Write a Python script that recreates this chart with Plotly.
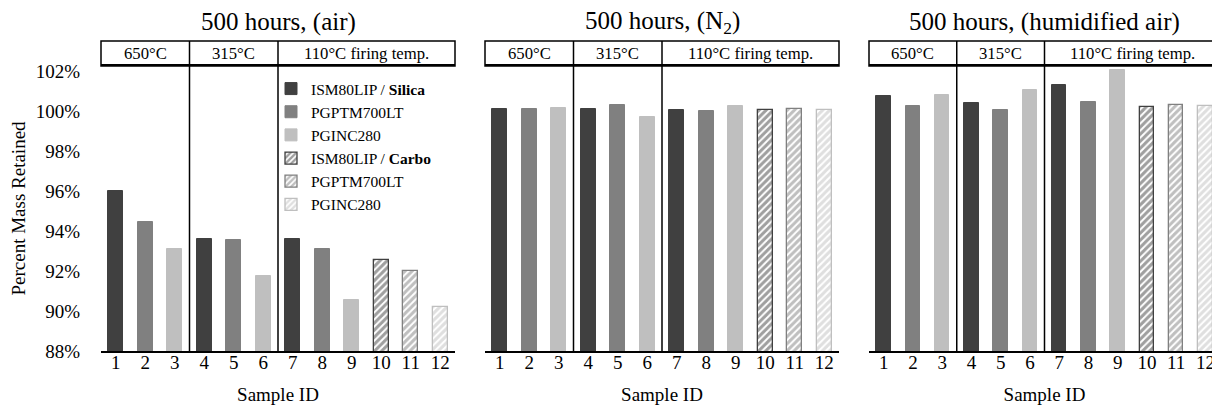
import plotly.graph_objects as go

# ---------------- data ----------------
sample_ids = [1, 2, 3, 4, 5, 6, 7, 8, 9, 10, 11, 12]
series_names = ["ISM80LIP / <b>Silica</b>", "PGPTM700LT", "PGINC280",
                "ISM80LIP / <b>Carbo</b>", "PGPTM700LT", "PGINC280"]
sample_series = [0, 1, 2, 0, 1, 2, 0, 1, 2, 3, 4, 5]

air = [96.0, 94.45, 93.1, 93.62, 93.55, 91.75, 93.62, 93.08, 90.55, 92.55, 91.98, 90.18]
n2 = [100.1, 100.12, 100.15, 100.08, 100.3, 99.7, 100.07, 100.0, 100.25, 100.05, 100.12, 100.05]
humid = [100.75, 100.27, 100.82, 100.38, 100.05, 101.05, 101.28, 100.45, 102.07, 100.18, 100.28, 100.25]

panel_titles = ["500 hours, (air)", "500 hours, (N<sub>2</sub>)", "500 hours, (humidified air)"]
zone_labels = ["650°C", "315°C", "110°C firing temp."]
zone_samples = [[1, 2, 3], [4, 5, 6], [7, 8, 9, 10, 11, 12]]
y_ticks = [88, 90, 92, 94, 96, 98, 100, 102]

# ---------------- styles ----------------
colors = ["#404040", "#808080", "#bfbfbf", "#404040", "#808080", "#bfbfbf"]
hatched = [False, False, False, True, True, True]
FONT = "Liberation Serif"
OFF = 8                      # page body margin
W, H = 1220 - OFF, 418 - OFF
px_x = [(101, 455), (485, 839), (869, 1223)]
plot_top, plot_bot = 66, 351
head_top = 41

def fx(p):
    return min(max((p - OFF) / W, 0.0), 1.0)

def fy(p):
    return (H - (p - OFF)) / H

fig = go.Figure()
panels = [air, n2, humid]
for pi, vals in enumerate(panels):
    xa = "x" if pi == 0 else f"x{pi+1}"
    for si in range(6):
        xs = [s for s, k in zip(sample_ids, sample_series) if k == si]
        ys = [v for v, k in zip(vals, sample_series) if k == si]
        marker = dict(color=colors[si], line=dict(color=colors[si], width=1))
        if hatched[si]:
            marker = dict(color="white",
                          line=dict(color=colors[si], width=1.3),
                          pattern=dict(shape="/", fgcolor=colors[si], bgcolor="white",
                                       size=5, solidity=0.6, fillmode="overlay"))
        fig.add_trace(go.Bar(x=xs, y=ys, width=0.5, marker=marker,
                             name=series_names[si], showlegend=(pi == 0),
                             xaxis=xa, yaxis="y"))

fig.update_layout(
    width=W, height=H, margin=dict(l=0, r=0, t=0, b=0, autoexpand=False),
    paper_bgcolor="white", plot_bgcolor="white",
    barmode="overlay", bargap=0,
    font=dict(family=FONT, size=19, color="black"),
    showlegend=True,
    legend=dict(x=fx(271), y=fy(72), xanchor="left", yanchor="top",
                bgcolor="rgba(0,0,0,0)", font=dict(family=FONT, size=15.5),
                tracegroupgap=0, itemwidth=30),
)

axis_common = dict(range=[0.5, 12.5], tickvals=sample_ids, ticktext=[str(s) for s in sample_ids],
                   showline=True, linecolor="black", linewidth=1.5, mirror=True,
                   showgrid=False, zeroline=False, ticks="", ticklabelstandoff=-7,
                   tickfont=dict(family=FONT, size=19), automargin=False,
                   title=dict(text="Sample ID", font=dict(family=FONT, size=19), standoff=16),
                   anchor="y")
for pi in range(3):
    key = "xaxis" if pi == 0 else f"xaxis{pi+1}"
    fig.layout[key] = dict(axis_common, domain=[fx(px_x[pi][0]), fx(px_x[pi][1])])

fig.update_layout(yaxis=dict(
    domain=[fy(plot_bot), fy(plot_top)], range=[88, 102.25],
    tickvals=y_ticks, ticktext=[f"{t}%" for t in y_ticks],
    showgrid=False, zeroline=False, showline=False, ticks="", ticklabelstandoff=20,
    tickfont=dict(family=FONT, size=19), automargin=False,
    title=dict(text="Percent Mass Retained", font=dict(family=FONT, size=19), standoff=5),
    anchor="x"))

shapes = []
annotations = []
for pi in range(3):
    xr = "x" if pi == 0 else f"x{pi+1}"
    shapes.append(dict(type="rect", xref=f"{xr} domain", yref="paper", x0=0, x1=1,
                       y0=fy(plot_top), y1=fy(head_top), line=dict(color="black", width=1.5),
                       fillcolor="rgba(0,0,0,0)", layer="above"))
    for zi, zs in enumerate(zone_samples):
        if zi > 0:
            xsep = zs[0] - 0.5
            shapes.append(dict(type="line", xref=xr, yref="paper", x0=xsep, x1=xsep,
                               y0=fy(plot_bot), y1=fy(head_top),
                               line=dict(color="black", width=1.5), layer="above"))
        annotations.append(dict(xref=xr, yref="paper", x=(zs[0] + zs[-1]) / 2,
                                y=(fy(plot_top) + fy(head_top)) / 2, text=zone_labels[zi],
                                showarrow=False, font=dict(family=FONT, size=16.7),
                                xanchor="center", yanchor="middle"))
    annotations.append(dict(xref=f"{xr} domain", yref="paper", x=0.5, y=fy(22),
                            text=panel_titles[pi], showarrow=False,
                            font=dict(family=FONT, size=25), xanchor="center", yanchor="middle"))

fig.update_layout(shapes=shapes, annotations=annotations)
fig.write_html("out.html")
